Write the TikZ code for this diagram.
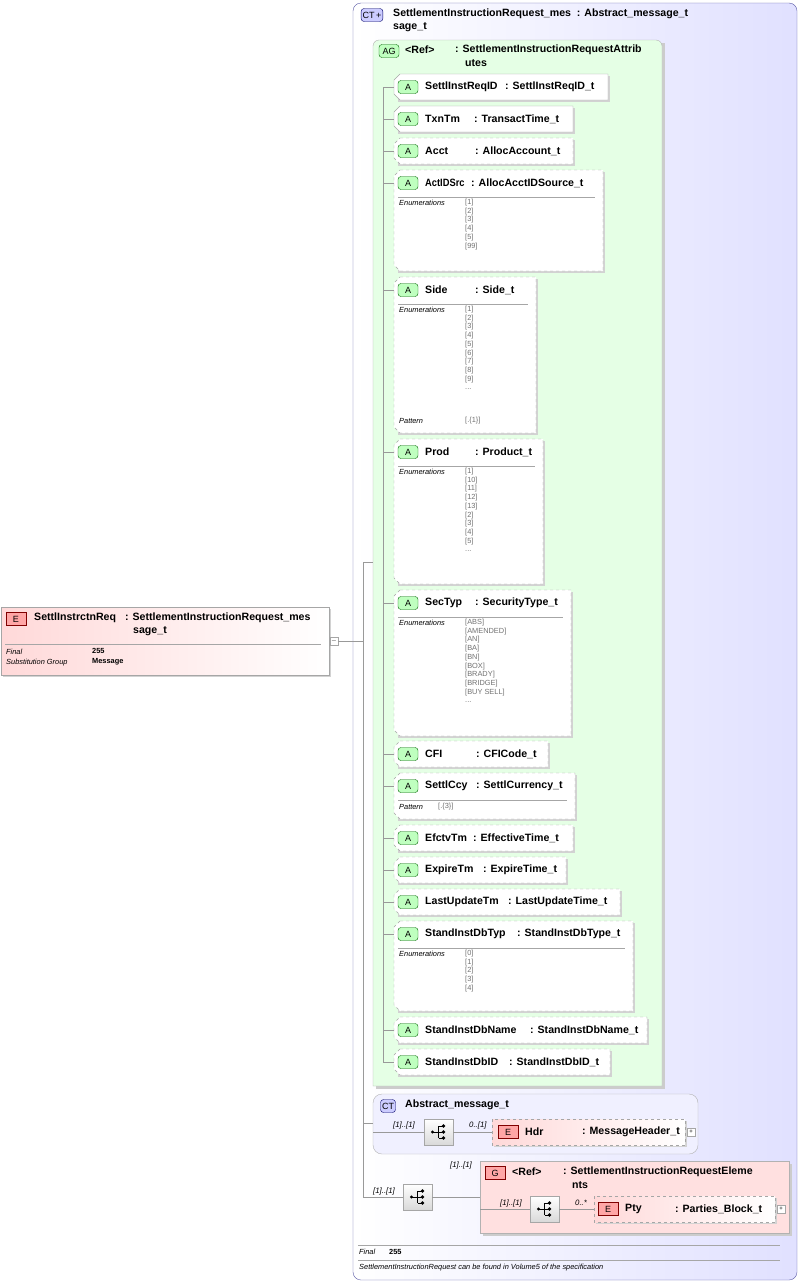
\documentclass[tikz,border=0pt]{standalone}
\usepackage{fontspec}
\usepackage{graphicx}
\setmainfont{Liberation Sans}
\begin{document}
\begin{tikzpicture}[x=1pt,y=-1pt,
 lbl/.style={anchor=west,inner sep=0pt,font=\fontsize{10.6}{12}\selectfont\bfseries},
 sm/.style={anchor=west,inner sep=0pt,font=\fontsize{7.4}{8}\selectfont\itshape},
 enum/.style={anchor=north west,inner sep=0pt,align=left,text=black!55,font=\fontsize{7.4}{8.7}\selectfont},
 conn/.style={draw=gray!80,line width=0.6pt},
 gbadge/.style={draw=green!40!black,fill=green!25,rounded corners=3pt,minimum width=20pt,minimum height=13pt,inner sep=0pt,font=\fontsize{9}{9}\selectfont},
 pbadge/.style={draw=red!50!black,fill=red!35,minimum width=20pt,minimum height=13pt,inner sep=0pt,font=\fontsize{9}{9}\selectfont},
 bbadge/.style={draw=blue!40!black,fill=blue!20,rounded corners=3pt,minimum height=13pt,inner sep=1.5pt,font=\fontsize{9}{9}\selectfont},
 card/.style={sm,font=\fontsize{7.8}{8}\selectfont\itshape},
 bsm/.style={sm,font=\fontsize{7.4}{8}\selectfont\bfseries},
 seq/.style={draw=gray!70,top color=white,bottom color=gray!30,minimum width=29pt,minimum height=26pt,inner sep=0pt},
 plus/.style={draw=gray!70,fill=white,minimum size=8pt,inner sep=0pt,font=\fontsize{6}{6}\selectfont}]
\useasboundingbox (0,0) rectangle (803,1283);
\newcommand\seqglyph[1]{%
 \fill (#1)++(-6,0) circle (1.6);
 \draw[line width=0.8pt] (#1)++(-6,0) -- ++(6,0) (#1)++(0,-6) -- ++(0,12) (#1)++(0,-6) -- ++(5,0) (#1)++(0,0) -- ++(5,0) (#1)++(0,6) -- ++(5,0);
 \fill (#1)++(5,-6) circle (1.8) (#1)++(5,0) circle (1.8) (#1)++(5,6) circle (1.8);}
\newcommand\attr[8]{%
 \fill[gray!35] (398,#2+2) -- (#4+2,#2+2) -- (#4+2,#3+2) -- (398,#3+2) -- cycle;
 \draw[#8,fill=white,draw=gray!70] (400,#2) -- (#4,#2) -- (#4,#3) -- (400,#3) -- (394,#3-6) -- (394,#2+6) -- cycle;
 \node[gbadge] (#1b) at (408,#2+13) {A};
 \node[lbl] (#1) at (425,#2+13) {#5};
 \node[lbl] (#1t) at (#6,#2+13) {: #7};
 \coordinate (#1c) at (394,#2+13);
 \draw[conn] (383,#2+13) -- (#1c);}
\newcommand\enums[3]{%
 \draw[gray!70] (398,#1+27) -- (#2-8,#1+27);
 \node[sm] at (399,#1+33) {Enumerations};
 \node[enum] at (465,#1+29) {#3};}
% outer CT
\draw[blue!30!gray,left color=white,right color=blue!12,rounded corners=8pt] (353,3) rectangle (797,1280);
\node[bbadge] (ctb) at (372,15) {CT\,+};
\node[lbl] (ct) at (393,14) {SettlementInstructionRequest\_mes\ \ : Abstract\_message\_t};
\node[lbl] (ct2) at (393,27) {sage\_t};
% AG
\fill[gray!40] (376,43) -- (665,43) -- (665,1089) -- (376,1089) -- cycle;
\draw[gray!60,fill=green!10,rounded corners=6pt] (373,1086) -- (373,40) -- (662,40) [sharp corners]-- (662,1086) -- cycle;
\node[gbadge] (agb) at (389,51) {AG};
\node[lbl] (ag) at (405,50) {<Ref>};
\node[lbl] (agt) at (455,50) {: SettlementInstructionRequestAttrib};
\node[lbl] (agt2) at (465,63) {utes};
\draw[conn] (383,87) -- (383,1062);
\attr{a1}{74}{100}{608}{SettlInstReqID}{505}{SettlInstReqID\_t}{solid}
\attr{a2}{106}{132}{573}{TxnTm}{474}{TransactTime\_t}{solid}
\attr{a3}{138}{164}{573}{Acct}{475}{AllocAccount\_t}{dashed}
\attr{a4}{170}{271}{603}{\scalebox{0.88}[1]{ActIDSrc}}{471}{AllocAcctIDSource\_t}{dashed}
\enums{170}{603}{{}[1]\\{}[2]\\{}[3]\\{}[4]\\{}[5]\\{}[99]}
\attr{a5}{277}{433}{536}{Side}{475}{Side\_t}{dashed}
\enums{277}{536}{{}[1]\\{}[2]\\{}[3]\\{}[4]\\{}[5]\\{}[6]\\{}[7]\\{}[8]\\{}[9]\\...}
\node[sm] at (399,421) {Pattern};
\node[enum,anchor=west] at (465,421) {[.\{1\}]};
\attr{a6}{439}{584}{543}{Prod}{475}{Product\_t}{dashed}
\enums{439}{543}{{}[1]\\{}[10]\\{}[11]\\{}[12]\\{}[13]\\{}[2]\\{}[3]\\{}[4]\\{}[5]\\...}
\attr{a7}{590}{736}{571}{SecTyp}{475}{SecurityType\_t}{dashed}
\enums{590}{571}{{}[ABS]\\{}[AMENDED]\\{}[AN]\\{}[BA]\\{}[BN]\\{}[BOX]\\{}[BRADY]\\{}[BRIDGE]\\{}[BUY SELL]\\...}
\attr{a8}{741}{767}{548}{CFI}{476}{CFICode\_t}{dashed}
\attr{a9}{773}{819}{575}{SettlCcy}{476}{SettlCurrency\_t}{dashed}
\draw[gray!70] (398,800) -- (567,800);
\node[sm] at (399,807) {Pattern};
\node[enum,anchor=west] at (438,807) {[.\{3\}]};
\attr{a10}{825}{851}{573}{EfctvTm}{473}{EffectiveTime\_t}{dashed}
\attr{a11}{857}{883}{566}{ExpireTm}{483}{ExpireTime\_t}{dashed}
\attr{a12}{889}{915}{620}{LastUpdateTm}{508}{LastUpdateTime\_t}{dashed}
\attr{a13}{921}{1011}{633}{StandInstDbTyp}{517}{StandInstDbType\_t}{dashed}
\enums{921}{633}{{}[0]\\{}[1]\\{}[2]\\{}[3]\\{}[4]}
\attr{a14}{1017}{1043}{647}{StandInstDbName}{530}{StandInstDbName\_t}{dashed}
\attr{a15}{1049}{1075}{610}{StandInstDbID}{509}{StandInstDbID\_t}{dashed}
% left element
\fill[gray!35] (3,609) rectangle (331,677);
\draw[gray!70,left color=red!15,right color=white] (1,607) rectangle (329,675);
\node[pbadge] (eb) at (16,619) {E};
\node[lbl] (e) at (34,618) {SettlInstrctnReq};
\node[lbl] (et) at (125,618) {: SettlementInstructionRequest\_mes};
\node[lbl] (et2) at (133,631) {sage\_t};
\draw[gray!70] (5,644) -- (321,644);
\node[sm] at (6,652) {Final};
\node[bsm] at (92,651) {255};
\node[sm] at (6,663) {Substitution Group};
\node[bsm] at (92,662) {Message};
\node[plus] (em) at (334,641) {$-$};
\coordinate (tr) at (363,641);
\draw[conn] (em.east) -- (tr);
\draw[conn] (363,562) -- (363,1197);
\draw[conn] (363,562) -- (373,562);
% Abstract CT
\draw[gray!60,fill=blue!6,rounded corners=9pt] (373,1094) rectangle (698,1154);
\node[bbadge] (ctab) at (388,1106) {CT};
\node[lbl] (cta) at (405,1105) {Abstract\_message\_t};
\draw[conn] (363,1123) -- (373,1123);
\node[seq] (s1) at (438.5,1132) {};
\seqglyph{s1}
\draw[conn] (373,1132) -- (s1.west);
\node[card] at (393,1125) {[1]..[1]};
\fill[gray!35] (494,1121) rectangle (687,1147);
\draw[dashed,gray!70,left color=red!15,right color=white] (492,1119) rectangle (685,1145);
\node[pbadge] (hb) at (508,1132) {E};
\node[lbl] (hdr) at (525,1132) {Hdr};
\node[lbl] (hdrt) at (582,1132) {: MessageHeader\_t};
\draw[conn] (s1.east) -- (492,1132);
\node[card] at (469,1125) {0..[1]};
\node[plus] at (691,1132) {+};
% seq 2
\node[seq] (s2) at (417.5,1197) {};
\seqglyph{s2}
\draw[conn] (363,1197) -- (s2.west);
\node[card] at (373,1191) {[1]..[1]};
% G
\fill[gray!40] (483,1164) rectangle (792,1236);
\draw[gray!60,fill=red!12] (480,1161) rectangle (789,1233);
\draw[conn] (s2.east) -- (480,1197);
\node[card] at (450,1165) {[1]..[1]};
\node[pbadge] (gb) at (495,1173) {G};
\node[lbl] (g) at (512,1172) {<Ref>};
\node[lbl] (gt) at (563,1172) {: SettlementInstructionRequestEleme};
\node[lbl] (gt2) at (572,1185) {nts};
\node[seq] (s3) at (544.5,1209) {};
\seqglyph{s3}
\draw[conn] (480,1209) -- (s3.west);
\node[card] at (500,1203) {[1]..[1]};
\fill[gray!35] (596,1198) rectangle (777,1224);
\draw[dashed,gray!70,left color=red!15,right color=white] (594,1196) rectangle (775,1222);
\node[pbadge] (pb) at (608,1209) {E};
\node[lbl] (pty) at (625,1209) {Pty};
\node[lbl] (ptyt) at (675,1209) {: Parties\_Block\_t};
\draw[conn] (s3.east) -- (594,1209);
\node[card] at (575,1203) {0..*};
\node[plus] at (781,1209) {+};
% footer
\draw[gray!70] (358,1245) -- (780,1245);
\node[sm] at (359,1252) {Final};
\node[bsm] at (389,1252) {255};
\draw[gray!70] (358,1260) -- (780,1260);
\node[sm] at (359,1268) {SettlementInstructionRequest can be found in Volume5 of the specification};
\end{tikzpicture}
\end{document}
